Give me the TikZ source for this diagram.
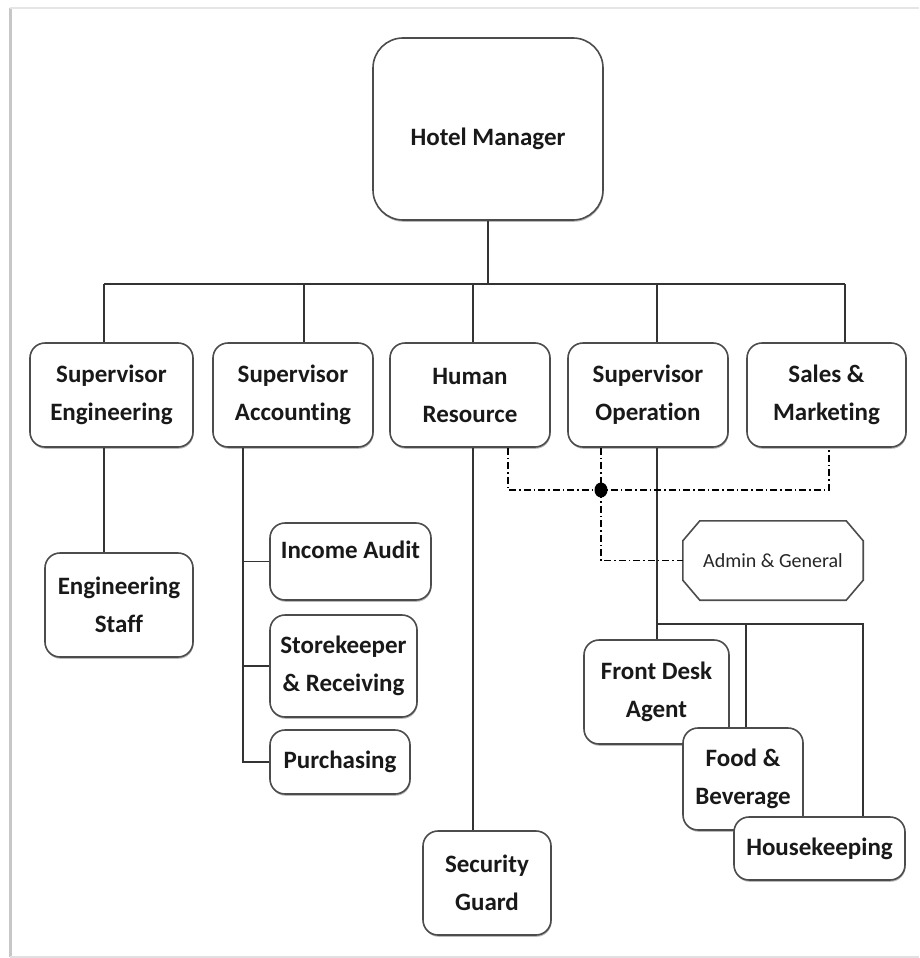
\documentclass[tikz,border=0pt]{standalone}
\usepackage{fontspec}
\setmainfont{Carlito}[Ligatures=NoCommon]
\usetikzlibrary{calc,shadows,shapes.geometric}
\begin{document}
\begin{tikzpicture}[x=1pt,y=-1pt,
  box/.style={draw=black!70, line width=1.6pt, rounded corners=15pt, fill=white,
    align=center, font=\fontsize{25}{38}\selectfont\bfseries, text=black!90, inner sep=0pt,
    drop shadow={shadow xshift=0.6pt, shadow yshift=-1.8pt, opacity=0.45, fill=black!60}},
  conn/.style={draw=black!80, line width=1.5pt},
  dashc/.style={draw=black, line width=1.2pt, dash pattern=on 7pt off 3pt on 1.5pt off 3pt},
  framec/.style={draw=black!22, line width=3pt},
]
\useasboundingbox (0,0) rectangle (919,958);
% page frame
\draw[framec] (10,8) -- (10,957);
\draw[framec, draw=black!10, line width=2pt] (10,8) -- (919,8);
\draw[framec, draw=black!12, line width=2pt] (10,957) -- (919,957);

% nodes
\node[box, minimum width=230pt, minimum height=182pt, rounded corners=30pt, text height=40pt, text depth=7pt] (hm) at (488,129) {Hotel Manager};

\node[box, minimum width=163pt, minimum height=104pt] (se) at (111.5,395) {Supervisor\\Engineering};
\node[box, minimum width=160pt, minimum height=104pt] (sa) at (293,395) {Supervisor\\Accounting};
\node[box, minimum width=160pt, minimum height=104pt] (hr) at (470,395) {Human\\Resource};
\node[box, minimum width=160pt, minimum height=104pt] (so) at (648,395) {Supervisor\\Operation};
\node[box, minimum width=159pt, minimum height=104pt] (sm) at (826.5,395) {Sales \&\\Marketing};

\node[box, minimum width=148pt, minimum height=104pt] (es) at (119,605) {Engineering\\Staff};

\node[box, minimum width=161pt, minimum height=77pt, text height=18pt, text depth=24pt] (ia) at (350.5,561.5) {Income Audit};
\node[box, minimum width=147pt, minimum height=102pt] (sk) at (343.5,666) {Storekeeper\\\& Receiving};
\node[box, minimum width=140pt, minimum height=64pt] (pu) at (340,762) {Purchasing};

\node[box, minimum width=128pt, minimum height=104pt] (sg) at (487,883) {Security\\Guard};

\node[box, minimum width=145pt, minimum height=104pt] (fd) at (656.5,692) {Front Desk\\Agent};
\node[box, minimum width=120pt, minimum height=102pt] (fb) at (743,779) {Food \&\\Beverage};
\node[box, minimum width=171pt, minimum height=63pt] (hk) at (819.5,848.5) {Housekeeping};

\node[minimum width=180pt, minimum height=79pt, inner sep=0pt,
  font=\fontsize{20}{24}\selectfont, text=black!85] (ag) at (773,560.5) {Admin \& General};
\draw[black!70, line width=1.6pt]
  ($(ag.north west)+(17,0)$) -- ($(ag.north east)+(-17,0)$) -- ($(ag.north east)+(0,20)$)
  -- ($(ag.south east)+(0,-20)$) -- ($(ag.south east)+(-17,0)$) -- ($(ag.south west)+(17,0)$)
  -- ($(ag.south west)+(0,-20)$) -- ($(ag.north west)+(0,20)$) -- cycle;

% helper coordinates
\coordinate (busy) at (0,284);
\coordinate (x1) at (104,0);
\coordinate (x2) at (304,0);
\coordinate (x3) at (473,0);
\coordinate (x4) at (657,0);
\coordinate (x5) at (845,0);
\coordinate (ax) at (243,0);
\coordinate (hrx) at (508,0);
\coordinate (sox) at (601,0);
\coordinate (smx) at (829,0);
\coordinate (dy) at (0,490);
\coordinate (oy) at (0,624);
\coordinate (fbx) at (746,0);
\coordinate (hkx) at (863,0);

% top bus
\draw[conn] (hm.south) -- (hm.south |- busy);
\draw[conn] (x1 |- busy) -- (x5 |- busy);
\draw[conn] (x1 |- busy) -- (x1 |- se.north);
\draw[conn] (x2 |- busy) -- (x2 |- sa.north);
\draw[conn] (x3 |- busy) -- (x3 |- hr.north);
\draw[conn] (x4 |- busy) -- (x4 |- so.north);
\draw[conn] (x5 |- busy) -- (x5 |- sm.north);

% engineering
\draw[conn] (x1 |- se.south) -- (x1 |- es.north);

% accounting
\draw[conn] (ax |- sa.south) -- (ax |- pu.west) -- (pu.west);
\draw[conn] (ax |- ia.west) -- (ia.west);
\draw[conn] (ax |- sk.west) -- (sk.west);

% human resource
\draw[conn] (x3 |- hr.south) -- (x3 |- sg.north);

% operation
\draw[conn] (x4 |- so.south) -- (x4 |- oy) -- (hkx |- oy) -- (hkx |- hk.north);
\draw[conn] (x4 |- oy) -- (x4 |- fd.north);
\draw[conn] (fbx |- oy) -- (fbx |- fb.north);

% dash-dot links
\draw[dashc] (hrx |- hr.south) -- (hrx |- dy) -- (smx |- dy) -- (smx |- sm.south);
\draw[dashc] (sox |- so.south) -- (sox |- ag.west) -- (ag.west);
\node[ellipse, fill=black, minimum width=13pt, minimum height=15pt, inner sep=0pt] (dot) at (sox |- dy) {};
\end{tikzpicture}
\end{document}
